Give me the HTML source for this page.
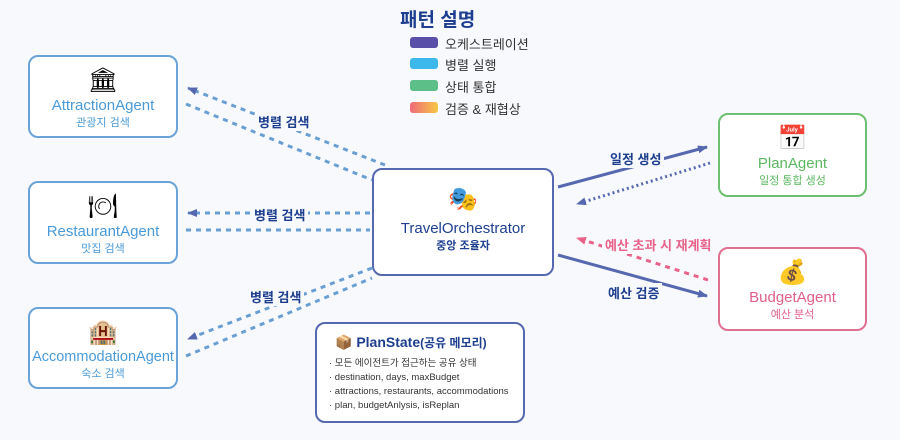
<!DOCTYPE html>
<html><head><meta charset="utf-8"><style>
body{margin:0;width:900px;height:440px;background:#f8f9fc;font-family:"Liberation Sans","Noto Sans CJK KR",sans-serif;position:relative;overflow:hidden}
.b{position:absolute;background:#fff;border-radius:10px;box-sizing:border-box;text-align:center}
.l{border:2.5px solid #6aa3d8}
.t{position:absolute;white-space:nowrap}
.n{font-size:15px;color:#4a9ad8}
.s{font-size:11px;color:#4a9ad8}
.ic{font-size:24px;margin-top:8px;height:32px;line-height:32px}
.lab{font-size:13px;font-weight:bold;color:#1e3f8f;position:absolute;white-space:nowrap;background:#f8f9fc;padding:0 3px}
.sw{position:absolute;left:410px;width:28px;height:11px;border-radius:3px}
.lg{position:absolute;left:445px;font-size:13px;color:#333}
</style></head><body>
<svg width="900" height="440" style="position:absolute;left:0;top:0">
<defs>
<marker id="mb" markerWidth="10" markerHeight="8" refX="9" refY="4" orient="auto" markerUnits="userSpaceOnUse"><path d="M0,0L10,4L0,8z" fill="#5669b0"/></marker>
<marker id="mp" markerWidth="10" markerHeight="8" refX="9" refY="4" orient="auto" markerUnits="userSpaceOnUse"><path d="M0,0L10,4L0,8z" fill="#e8628a"/></marker>
</defs>
<g stroke="#6a9fd4" stroke-width="3" stroke-dasharray="5,5" fill="none">
<line x1="385" y1="165" x2="188" y2="88" marker-end="url(#mb)"/>
<line x1="186" y1="104" x2="372" y2="180"/>
<line x1="370" y1="213" x2="188" y2="213" marker-end="url(#mb)"/>
<line x1="186" y1="230" x2="370" y2="230"/>
<line x1="372" y1="268" x2="188" y2="339" marker-end="url(#mb)"/>
<line x1="186" y1="356" x2="372" y2="278"/>
</g>
<line x1="558" y1="187" x2="707" y2="147" stroke="#5669b0" stroke-width="3" marker-end="url(#mb)"/>
<line x1="710" y1="163" x2="577" y2="204" stroke="#5669b0" stroke-width="3" stroke-dasharray="2,3" marker-end="url(#mb)"/>
<line x1="558" y1="255" x2="707" y2="296" stroke="#5669b0" stroke-width="3" marker-end="url(#mb)"/>
<line x1="708" y1="280" x2="577" y2="238" stroke="#e8628a" stroke-width="3" stroke-dasharray="5,5" marker-end="url(#mp)"/>
</svg>
<div class="t" style="left:400px;top:5px;font-size:19px;font-weight:bold;color:#1e3f8f">패턴 설명</div>
<div class="sw" style="top:37px;background:#5a4fa8"></div><div class="lg" style="top:34px">오케스트레이션</div>
<div class="sw" style="top:58px;background:#3db8ec"></div><div class="lg" style="top:55px">병렬 실행</div>
<div class="sw" style="top:80px;background:#5cbf88"></div><div class="lg" style="top:77px">상태 통합</div>
<div class="sw" style="top:102px;background:linear-gradient(90deg,#ee6a7a,#f7c842)"></div><div class="lg" style="top:99px">검증 &amp; 재협상</div>

<div class="b l" style="left:28px;top:55px;width:150px;height:83px"><div class="ic">🏛</div><div class="n">AttractionAgent</div><div class="s">관광지 검색</div></div>
<div class="b l" style="left:28px;top:181px;width:150px;height:83px"><div class="ic">🍽</div><div class="n">RestaurantAgent</div><div class="s">맛집 검색</div></div>
<div class="b l" style="left:28px;top:307px;width:150px;height:82px"><div class="ic">🏨</div><div class="n" style="font-size:14.5px">AccommodationAgent</div><div class="s">숙소 검색</div></div>

<div class="b" style="left:372px;top:168px;width:182px;height:108px;border:2.5px solid #5669b0"><div class="ic" style="margin-top:14px">🎭</div><div style="font-size:15px;color:#1e3f8f;margin-top:4px">TravelOrchestrator</div><div style="font-size:11px;color:#1e3f8f;font-weight:bold">중앙 조율자</div></div>

<div class="b" style="left:718px;top:113px;width:149px;height:84px;border:2.5px solid #6cc070"><div class="ic">📅</div><div style="font-size:15px;color:#5cb860">PlanAgent</div><div style="font-size:11px;color:#5cb860">일정 통합 생성</div></div>
<div class="b" style="left:718px;top:247px;width:149px;height:84px;border:2.5px solid #e07090"><div class="ic">💰</div><div style="font-size:15px;color:#e06088">BudgetAgent</div><div style="font-size:11px;color:#e06088">예산 분석</div></div>

<div class="b" style="left:315px;top:322px;width:210px;height:101px;border:2.5px solid #5669b0;text-align:left;padding:10px 0 0 12px">
<div style="font-size:14px;color:#1e3f8f;font-weight:bold;margin-left:6px">📦 PlanState<span style="font-size:12px">(공유 메모리)</span></div>
<div style="font-size:9.5px;color:#333;line-height:14px;margin-top:6px">· 모든 에이전트가 접근하는 공유 상태<br>· destination, days, maxBudget<br>· attractions, restaurants, accommodations<br>· plan, budgetAnlysis, isReplan</div></div>

<div class="lab" style="left:255px;top:112px">병렬 검색</div>
<div class="lab" style="left:251px;top:205px">병렬 검색</div>
<div class="lab" style="left:247px;top:287px">병렬 검색</div>
<div class="lab" style="left:607px;top:149px">일정 생성</div>
<div class="lab" style="left:605px;top:283px">예산 검증</div>
<div class="lab" style="left:602px;top:235px;color:#e8628a">예산 초과 시 재계획</div>
</body></html>
